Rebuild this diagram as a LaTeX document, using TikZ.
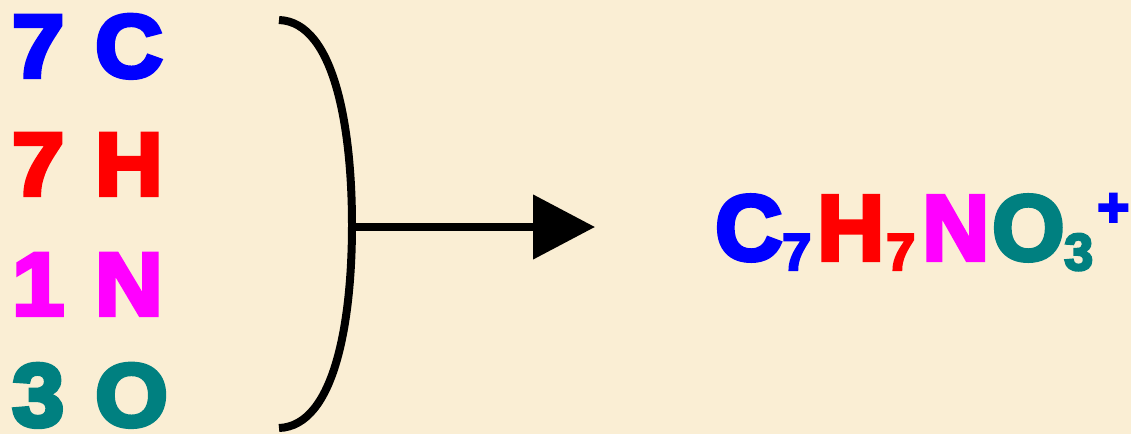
\documentclass[tikz,border=0pt]{standalone}
\usepackage{fontspec}
\newfontfamily\hv[FakeBold=5,FakeStretch=1.05]{Liberation Sans Bold}
\newfontfamily\hvf[FakeBold=4.5]{Liberation Sans Bold}
\usetikzlibrary{arrows.meta}
\definecolor{bg}{RGB}{250,238,212}
\definecolor{cC}{RGB}{0,0,255}
\definecolor{cH}{RGB}{255,0,0}
\definecolor{cN}{RGB}{255,0,255}
\definecolor{cO}{RGB}{0,128,128}
\tikzset{
  big/.style={inner sep=0pt, anchor=base west, font=\hv\fontsize{89}{89}\selectfont},
  form/.style={inner sep=0pt, anchor=base west, font=\hvf\fontsize{93}{93}\selectfont},
}
\newcommand{\sbs}[2]{\makebox[#1pt][l]{\raisebox{-10pt}{\fontsize{52}{52}\selectfont #2}}}
\newcommand{\mbx}[2]{\makebox[#1pt][l]{#2}}
\begin{document}
\begin{tikzpicture}[x=1pt,y=-1pt]
\fill[bg] (0,0) rectangle (1131,434);
\useasboundingbox (0,0) rectangle (1131,434);
\node[big, text=cC] (n1) at (12,77) {7};
\node[big, text=cC] (e1) at (95,77) {C};
\node[big, text=cH] (n2) at (12,195) {7};
\node[big, text=cH] (e2) at (95,195) {H};
\node[big, text=cN] (n3) at (12,315) {1};
\node[big, text=cN] (e3) at (95,315) {N};
\node[big, text=cO] (n4) at (12,426) {3};
\node[big, text=cO] (e4) at (95,426) {O};
\draw[line width=8pt] (279,20) .. controls (335,22) and (352,130) .. (352,225) .. controls (352,320) and (335,426) .. (279,428);
\coordinate (bmid) at (352,227);
\coordinate (tip) at (595,227);
\draw[line width=8pt, -{Triangle[length=62pt,width=63pt]}] (bmid) -- (tip);
\node[form] (formula) at (715,260) {\textcolor{cC}{\mbx{67}{C}\sbs{35}{7}}\textcolor{cH}{\mbx{69}{H}\sbs{36}{7}}\textcolor{cN}{\mbx{70}{N}}\textcolor{cO}{\mbx{72}{O}\sbs{33}{3}}\raisebox{34pt}{\fontsize{55}{55}\selectfont\textcolor{cC}{+}}};
\end{tikzpicture}
\end{document}
